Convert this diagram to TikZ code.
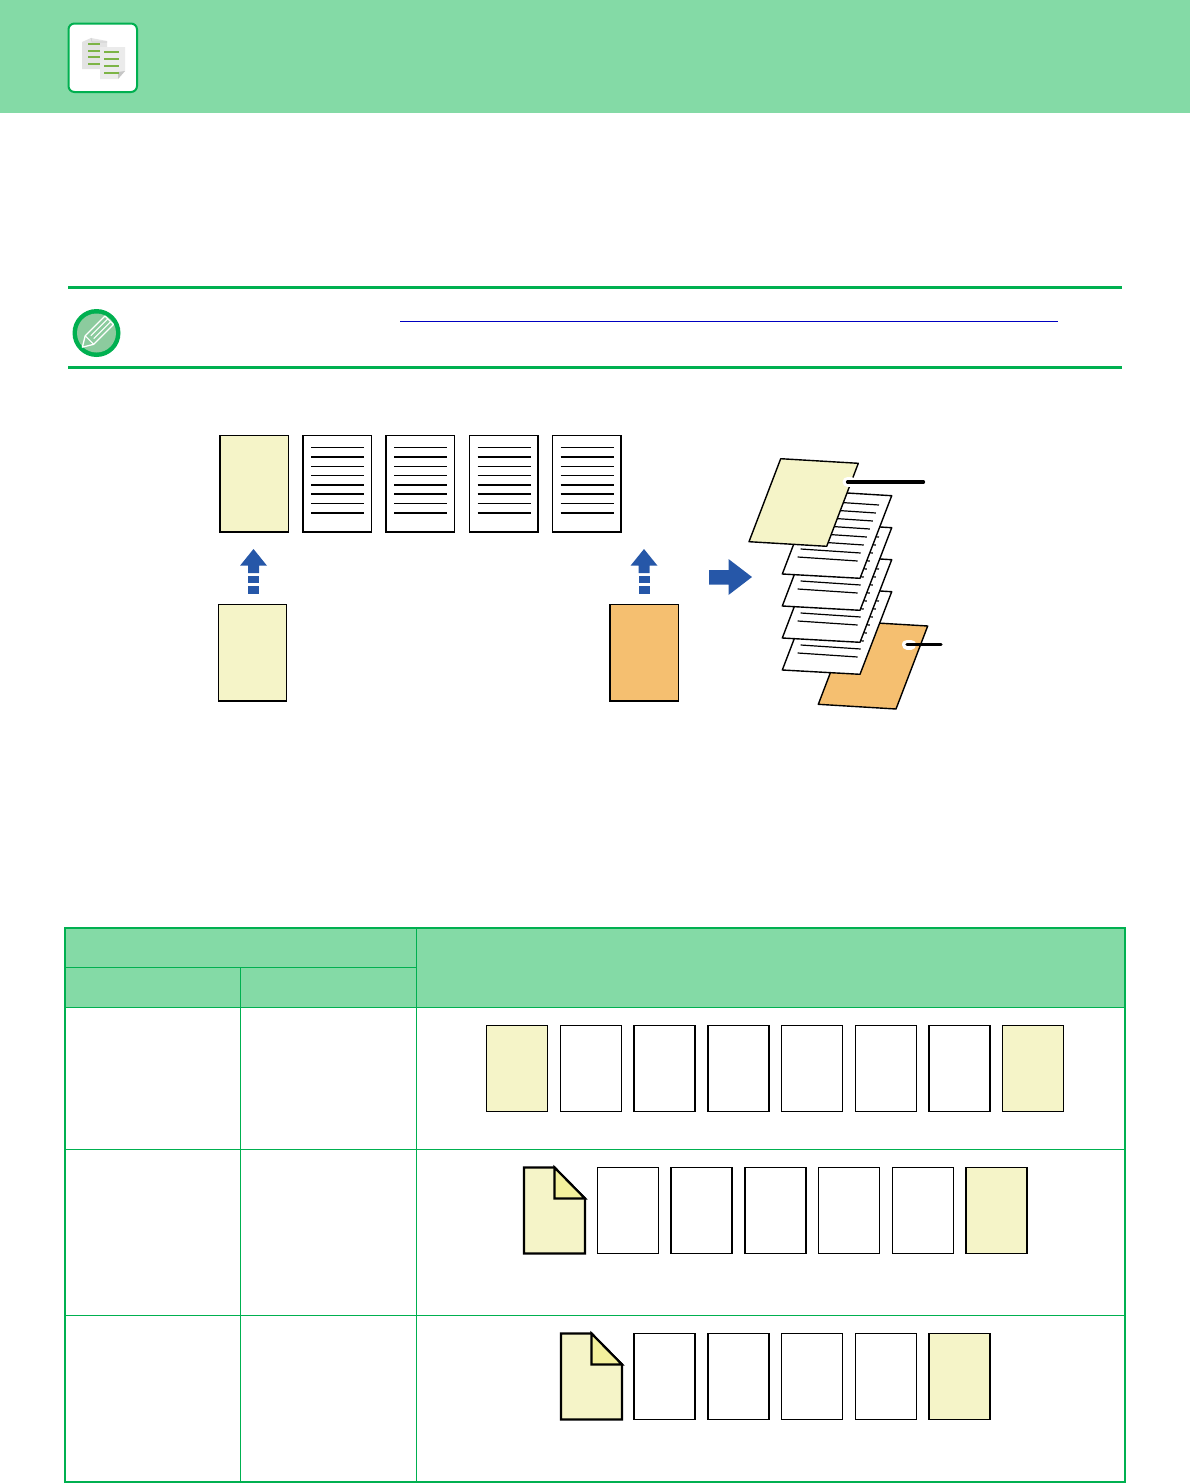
\documentclass[tikz,border=0pt]{standalone}
\usetikzlibrary{positioning}
\definecolor{hdr}{HTML}{84DAA6}
\definecolor{grn}{HTML}{00B050}
\definecolor{ylw}{HTML}{F5F4C8}
\definecolor{ylwd}{HTML}{F3F09C}
\definecolor{org}{HTML}{F5BF70}
\definecolor{blu}{HTML}{2657A8}
\definecolor{pen}{HTML}{8CCB9E}
\definecolor{lnk}{HTML}{0000C0}
\definecolor{icg}{HTML}{7DB446}
\tikzset{
 pagebox/.style={draw=black,line width=1.2pt,fill=white,inner sep=0pt,outer sep=0pt,minimum width=#1},
 pagebox/.default=69pt,
 txtline/.style={black,line width=1.1pt},
 txtthick/.style={black,line width=1.8pt},
 sheet/.style={draw=black,line width=1.4pt,line join=round},
 bluearrow/.style={fill=blu,draw=none},
 tbl/.style={grn,line width=1pt},
 tblo/.style={grn,line width=2pt},
 rulegr/.style={grn,line width=3pt},
 leader/.style={line width=3.2pt,line cap=round,black},
 halo/.style={line width=10pt,line cap=round,white},
}
\newcommand{\flatpage}[6]{% name, x0,y0,x1,y1,fill
 \node[pagebox=#4pt-#2pt,minimum height=#5pt-#3pt,fill=#6,anchor=north west] (#1) at (#2,#3) {};}
\newcommand{\linedpage}[2]{% name, x0
 \flatpage{#1}{#2}{435.5}{#2+68.5}{532}{white}
 \draw[txtline]  (#2+8,447.5)--(#2+61,447.5);
 \draw[txtthick] (#2+8,457)--(#2+61,457);
 \draw[txtline]  (#2+8,466.5)--(#2+61,466.5);
 \draw[txtline]  (#2+8,475.5)--(#2+61,475.5);
 \draw[txtthick] (#2+8,485)--(#2+61,485);
 \draw[txtthick] (#2+8,494)--(#2+61,494);
 \draw[txtline]  (#2+8,503.5)--(#2+61,503.5);
 \draw[txtthick] (#2+8,513)--(#2+61,513);
 \draw[black,line width=1.8pt] (#2,435.5)--(#2+68.5,435.5);}
\newcommand{\feedarrow}[1]{% x centre
 \fill[bluearrow] (#1,549)--(#1+13.5,565.7)--(#1+5.5,565.7)--(#1+5.5,573)--(#1-5.5,573)--(#1-5.5,565.7)--(#1-13.5,565.7)--cycle;
 \fill[bluearrow] (#1-5.5,576)rectangle(#1+5.5,583);
 \fill[bluearrow] (#1-5.5,586)rectangle(#1+5.5,594);}
\newcommand{\tiltsheet}[1]{% y offset
 \begin{scope}[yshift=-#1pt]
 \draw[sheet,fill=white] (814,491)--(891.7,495.7)--(860,578.3)--(782.3,574)--cycle;
 \foreach \i in {0,...,7}{
  \draw[black,line width=1.2pt] (879-3.05*\i-60,505+8*\i-4)--(879-3.05*\i,505+8*\i);}
 \end{scope}}
\newcommand{\cellpage}[3]{% name, x0, y0
 \node[pagebox=61pt,minimum height=86pt,anchor=north west] (#1) at (#2,#3) {};}
\newcommand{\cellyellow}[3]{%
 \node[pagebox=61pt,minimum height=86pt,fill=ylw,anchor=north west,line width=1.4pt] (#1) at (#2,#3) {};}
\newcommand{\dogear}[2]{% x0,y0
 \draw[black,line width=2.2pt,fill=ylw,line join=miter] (#1,#2)--(#1+30.5,#2)--(#1+61,#2+31)--(#1+61,#2+86)--(#1,#2+86)--cycle;
 \draw[black,line width=2.2pt,fill=ylwd,line join=miter] (#1+30.5,#2)--(#1+61,#2+31)--(#1+30.5,#2+31)--cycle;}
\begin{document}
\begin{tikzpicture}[x=1pt,y=-1pt]
\useasboundingbox (0,0) rectangle (1190,1483);
% header band
\fill[hdr] (0,0) rectangle (1190,112.5);
\draw[grn,line width=2pt,fill=white,rounded corners=6pt] (68.5,23.5) rectangle (137,92);
% icon
\fill[gray!22] (82,42) -- (91,38) -- (107,41) -- (107,69) -- (82,69) -- cycle;
\draw[gray!40,line width=0.6pt] (91,38) -- (92,42) -- (107,42);
\foreach \y in {42.5,49.5,56,62.5}{\fill[icg] (88,\y) rectangle (100,\y+2.3);}
\fill[gray!16] (100,47) -- (125,47) -- (125,71) -- (118,79) -- (100,79) -- cycle;
\fill[gray!45] (118,79) -- (118,72) -- (125,71) -- cycle;
\foreach \y in {51,58,65,71.5}{\fill[icg] (103.5,\y) rectangle (119,\y+2.3);}
% note band
\draw[rulegr] (68,287.5) -- (1122,287.5);
\draw[rulegr] (68,367.5) -- (1122,367.5);
\draw[lnk,line width=0.8pt] (400,321.5) -- (1058,321.5);
% pencil badge
\fill[grn] (96.5,333) circle (24pt);
\fill[pen] (96.5,333) circle (19.5pt);
\begin{scope}[shift={(96.5,333)},rotate=45]
 \draw[white,line width=1.3pt,line join=round] (-20,0) -- (-10,-6) -- (18,-6) -- (18,6) -- (-10,6) -- cycle;
 \draw[white,line width=1.1pt] (-10,-6) -- (-10,6);
 \draw[white,line width=1pt] (-6,-2) -- (18,-2);
 \draw[white,line width=1pt] (-6,2) -- (18,2);
\end{scope}
% flat pages
\flatpage{p0}{220}{435.5}{288.5}{532}{ylw}
\draw[black,line width=1.8pt] (220,435.5)--(288.5,435.5);
\linedpage{p1}{303}
\linedpage{p2}{386}
\linedpage{p3}{469.5}
\linedpage{p4}{552.5}
\feedarrow{253.5}
\feedarrow{644}
\flatpage{c1}{218.5}{604.5}{286.5}{701}{ylw}
\flatpage{c2}{610}{604.5}{678.5}{701}{org}
% right arrow
\fill[bluearrow] (709,570)--(728.5,570)--(728.5,559)--(752,577)--(728.5,595)--(728.5,584.5)--(709,584.5)--cycle;
% tilted stack
\draw[sheet,fill=org] (850,621.4)--(927.7,626)--(896,709)--(818.3,704.3)--cycle;
\tiltsheet{96}
\tiltsheet{64}
\tiltsheet{32}
\tiltsheet{0}
\draw[sheet,fill=ylw] (780.7,458.7)--(858.3,463.3)--(826.7,546.3)--(749,541.7)--cycle;
\coordinate (l1a) at (847.5,482); \coordinate (l1b) at (923.5,482);
\coordinate (l2a) at (907,644.5); \coordinate (l2b) at (941,644.5);
\draw[halo] (l1a)--([xshift=4pt]l1a);
\draw[leader] (l1a)--(l1b);
\draw[halo] (l2a)--([xshift=4pt]l2a);
\draw[leader] (l2a)--(l2b);
% table
\fill[hdr] (65,928) rectangle (1125,1007.5);
\draw[tbl] (65,967.5)--(416.5,967.5);
\draw[tbl] (240.5,967.5)--(240.5,1482);
\draw[tbl] (416.5,928)--(416.5,1482);
\draw[tbl] (65,1007.5)--(1125,1007.5);
\draw[tbl] (65,1149.5)--(1125,1149.5);
\draw[tbl] (65,1315.5)--(1125,1315.5);
\draw[tblo] (65,928) rectangle (1125,1481.5);
% row 1
\cellyellow{r1a}{486.5}{1025.5}
\cellpage{r1b}{560.5}{1025.5}
\cellpage{r1c}{634}{1025.5}
\cellpage{r1d}{708}{1025.5}
\cellpage{r1e}{781.5}{1025.5}
\cellpage{r1f}{855.5}{1025.5}
\cellpage{r1g}{929}{1025.5}
\cellyellow{r1h}{1002.5}{1025.5}
% row 2
\dogear{524}{1167.5}
\cellpage{r2b}{597.5}{1167.5}
\cellpage{r2c}{671}{1167.5}
\cellpage{r2d}{745}{1167.5}
\cellpage{r2e}{818.5}{1167.5}
\cellpage{r2f}{892.5}{1167.5}
\cellyellow{r2h}{966}{1167.5}
% row 3
\dogear{561}{1333.5}
\cellpage{r3b}{634}{1333.5}
\cellpage{r3c}{708}{1333.5}
\cellpage{r3d}{781.5}{1333.5}
\cellpage{r3e}{855.5}{1333.5}
\cellyellow{r3h}{929}{1333.5}
\end{tikzpicture}
\end{document}
